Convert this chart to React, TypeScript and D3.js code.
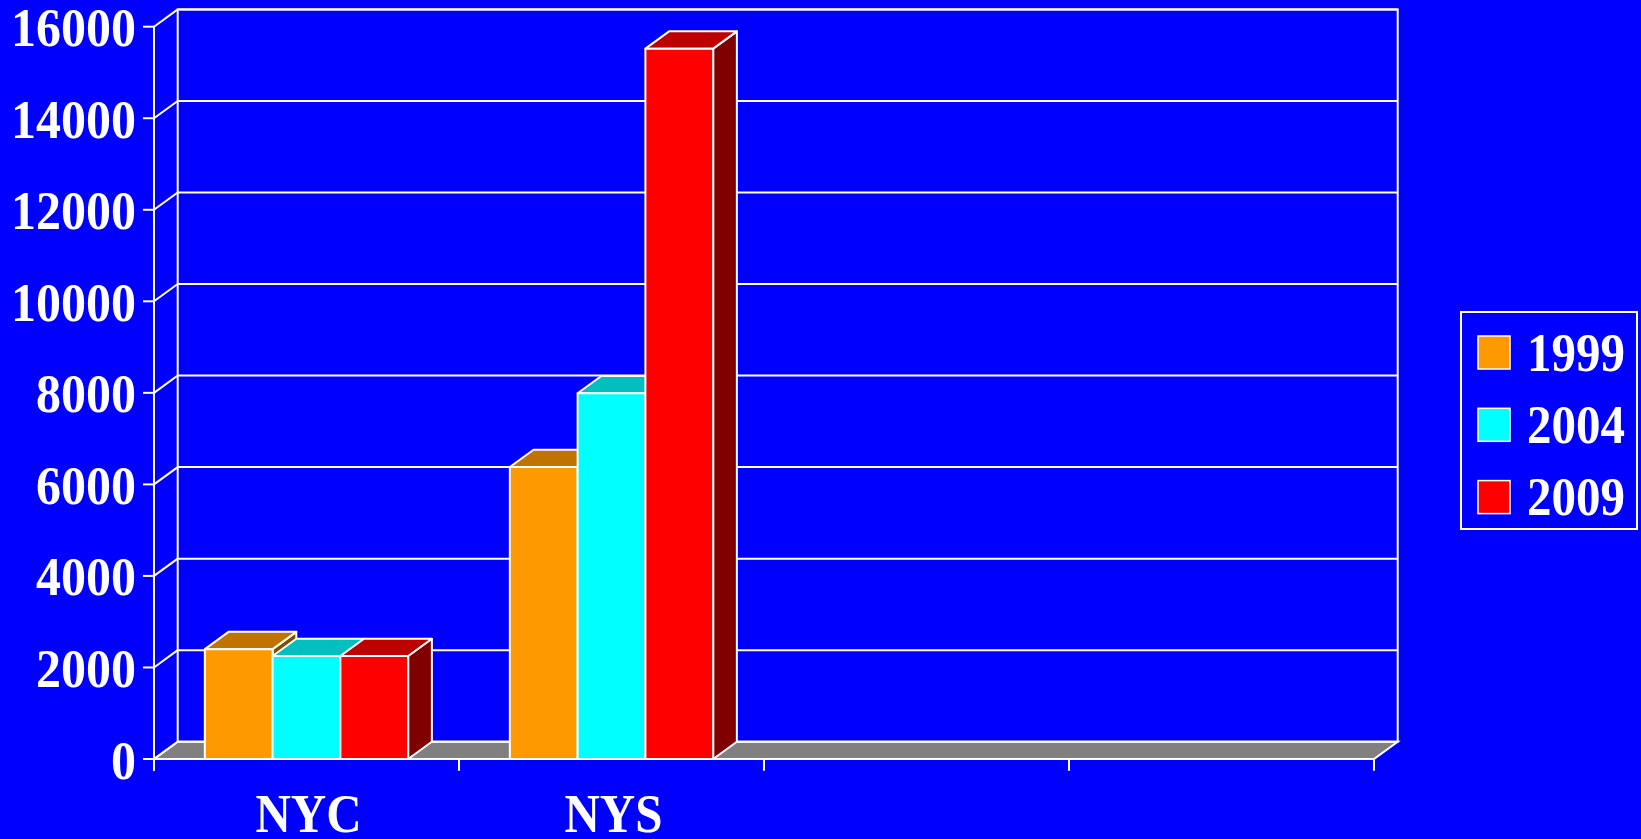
import React from "react";
import * as d3 from "d3";

const W = 1641;
const H = 839;

const categories = ["NYC", "NYS", "", ""];
const seriesNames = ["1999", "2004", "2009"];
const values1999 = [2400, 6380, null, null];
const values2004 = [2250, 7990, null, null];
const values2009 = [2250, 15520, null, null];
const yTicks = [0, 2000, 4000, 6000, 8000, 10000, 12000, 14000, 16000];

const frontColors = ["#ff9900", "#00ffff", "#ff0000"];
const topColors = ["#bf7300", "#00bfbf", "#bf0000"];
const sideColors = ["#804d00", "#008080", "#800000"];

// 3d depth offset of the back wall
const DX = 23.7;
const DY = -17.3;
const FONT = "'Liberation Serif', 'Times New Roman', serif";
const STRETCH = 1.1; // the original glyphs are a bit taller than wide

const poly = (pts: [number, number][]) => "M" + pts.map((p) => p.join(",")).join("L") + "Z";

const Label = ({ x, y, anchor, size, children }: { x: number; y: number; anchor?: string; size: number; children: React.ReactNode }) => (
  <text
    transform={`translate(${x},${y}) scale(1,${STRETCH})`}
    textAnchor={anchor || "start"}
    fill="#fff"
    fontFamily={FONT}
    fontWeight="bold"
    fontSize={size}
  >
    {children}
  </text>
);

export default function App() {
  const seriesValues = [values1999, values2004, values2009];

  const x0 = d3.scaleBand<string>().domain(categories.map((c, i) => i + "")).range([154, 1374]).padding(0);
  const x1 = d3
    .scaleBand<string>()
    .domain(seriesNames)
    .range([0, x0.bandwidth()])
    .paddingInner(0)
    .paddingOuter(0.75);
  const y = d3.scaleLinear().domain([0, 16000]).range([759, 26.7]);

  const left = x0.range()[0];
  const right = x0.range()[1];
  const base = y(0);
  const topY = y(16000);

  const bars: React.ReactNode[] = [];
  categories.forEach((c, ci) => {
    seriesNames.forEach((s, si) => {
      const v = seriesValues[si][ci];
      if (v == null) return;
      const bx = (x0(ci + "") || 0) + (x1(s) || 0);
      const bw = x1.bandwidth();
      const by = y(v);
      bars.push(
        <g key={ci + "-" + si} stroke="#fff" strokeWidth={2} strokeLinejoin="round">
          <path d={poly([[bx + bw, by], [bx + bw + DX, by + DY], [bx + bw + DX, base + DY], [bx + bw, base]])} fill={sideColors[si]} />
          <path d={poly([[bx, by], [bx + DX, by + DY], [bx + bw + DX, by + DY], [bx + bw, by]])} fill={topColors[si]} />
          <rect x={bx} y={by} width={bw} height={base - by} fill={frontColors[si]} />
        </g>
      );
    });
  });

  return (
    <div style={{ position: "fixed", left: 0, top: 0, width: W, height: H, background: "#0000ff", overflow: "hidden" }}>
      <svg width={W} height={H} style={{ display: "block" }}>
        <rect width={W} height={H} fill="#0000ff" />
        {/* floor */}
        <path
          d={poly([[left, base], [left + DX, base + DY], [right + DX, base + DY], [right, base]])}
          fill="#808080"
          stroke="#fff"
          strokeWidth={2}
        />
        {/* back wall */}
        <rect x={left + DX} y={topY + DY} width={right - left} height={base - topY} fill="none" stroke="#fff" strokeWidth={2} />
        {/* gridlines: side wall diagonals + back wall horizontals */}
        {yTicks.map((t) => (
          <g key={t} stroke="#fff" strokeWidth={2} fill="none">
            <line x1={left} y1={y(t)} x2={left + DX} y2={y(t) + DY} />
            {t > 0 && <line x1={left + DX} y1={y(t) + DY} x2={right + DX} y2={y(t) + DY} />}
            <line x1={left - 11} y1={y(t)} x2={left} y2={y(t)} />
          </g>
        ))}
        {/* front y axis */}
        <line x1={left} y1={topY} x2={left} y2={base + 11.7} stroke="#fff" strokeWidth={2} />
        {bars}
        {/* front x axis */}
        <line x1={left} y1={base} x2={right} y2={base} stroke="#fff" strokeWidth={2} />
        {categories.map((c, i) => (
          <line key={"t" + i} x1={x0(i + "")} y1={base} x2={x0(i + "")} y2={base + 11.7} stroke="#fff" strokeWidth={2} />
        ))}
        <line x1={right} y1={base} x2={right} y2={base + 11.7} stroke="#fff" strokeWidth={2} />
        {/* y labels */}
        {yTicks.map((t) => (
          <Label key={"l" + t} x={136} y={y(t) + 19.5} anchor="end" size={50}>
            {t}
          </Label>
        ))}
        {/* category labels */}
        {categories.map((c, i) => (
          <Label key={"c" + i} x={(x0(i + "") || 0) + x0.bandwidth() / 2 + 2} y={832} anchor="middle" size={49}>
            {c}
          </Label>
        ))}
        {/* legend */}
        <rect x={1461} y={312} width={176} height={217} fill="none" stroke="#fff" strokeWidth={2} />
        {seriesNames.map((s, i) => (
          <g key={"lg" + s}>
            <rect x={1478} y={336 + i * 72.3} width={32} height={33} fill={frontColors[i]} stroke="#fff" strokeWidth={1.5} />
            <Label x={1527} y={370.5 + i * 72.3} size={49}>
              {s}
            </Label>
          </g>
        ))}
      </svg>
    </div>
  );
}
